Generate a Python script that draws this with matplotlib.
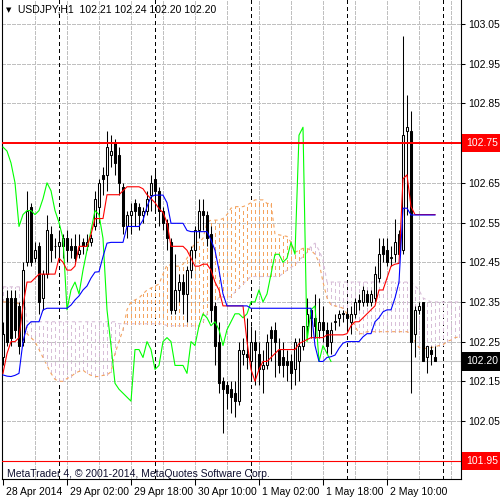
import numpy as np
import pandas as pd
import matplotlib
matplotlib.use("Agg")
import matplotlib.pyplot as plt
from matplotlib.transforms import blended_transform_factory, ScaledTranslation

plt.rcParams['font.family'] = ['Liberation Sans', 'DejaVu Sans']

# USDJPY H1, first bar 28 Apr 2014 10:00
symbol = "USDJPY,H1"
start_time = "2014-04-28 10:00"

opens = [102.21, 102.36, 102.36, 102.36, 102.34, 102.25, 102.45, 102.59, 102.46, 102.49,
         102.36, 102.42, 102.52, 102.49, 102.49, 102.49, 102.51, 102.49, 102.49, 102.47,
         102.50, 102.49, 102.50, 102.54, 102.59, 102.67, 102.67, 102.72, 102.75, 102.72,
         102.64, 102.54, 102.57, 102.60, 102.59, 102.57, 102.58, 102.62, 102.66, 102.63,
         102.58, 102.55, 102.50, 102.33, 102.38, 102.40, 102.37, 102.43, 102.48, 102.53,
         102.58, 102.57, 102.52, 102.34, 102.25, 102.15, 102.14, 102.13, 102.12, 102.10,
         102.22, 102.22, 102.20, 102.25, 102.22, 102.18, 102.19, 102.28, 102.28, 102.23,
         102.21, 102.20, 102.20, 102.18, 102.20, 102.24, 102.29, 102.33, 102.31, 102.28,
         102.30, 102.28, 102.25, 102.30, 102.31, 102.32, 102.32, 102.30, 102.32, 102.355,
         102.35, 102.37, 102.35, 102.36, 102.41, 102.49, 102.48, 102.46, 102.47, 102.52,
         102.48, 102.78, 102.78, 102.27, 102.33, 102.35, 102.21, 102.23, 102.21]
highs = [102.30, 102.38, 102.38, 102.38, 102.35, 102.45, 102.63, 102.60, 102.50, 102.50,
         102.43, 102.57, 102.54, 102.51, 102.53, 102.52, 102.53, 102.51, 102.52, 102.52,
         102.51, 102.52, 102.52, 102.63, 102.66, 102.69, 102.78, 102.77, 102.76, 102.74,
         102.65, 102.58, 102.60, 102.61, 102.60, 102.59, 102.63, 102.67, 102.68, 102.64,
         102.59, 102.56, 102.51, 102.47, 102.42, 102.42, 102.44, 102.49, 102.54, 102.61,
         102.61, 102.58, 102.54, 102.35, 102.30, 102.16, 102.15, 102.15, 102.15, 102.25,
         102.26, 102.31, 102.29, 102.28, 102.25, 102.23, 102.27, 102.29, 102.30, 102.26,
         102.25, 102.23, 102.22, 102.26, 102.26, 102.29, 102.36, 102.33, 102.37, 102.36,
         102.34, 102.30, 102.30, 102.32, 102.33, 102.33, 102.33, 102.34, 102.36, 102.37,
         102.39, 102.38, 102.38, 102.44, 102.51, 102.51, 102.51, 102.49, 102.56, 102.53,
         103.02, 102.87, 102.83, 102.34, 102.35, 102.35, 102.24, 102.24, 102.24]
lows = [102.19, 102.24, 102.24, 102.26, 102.22, 102.24, 102.44, 102.44, 102.45, 102.32,
        102.33, 102.41, 102.45, 102.46, 102.45, 102.46, 102.45, 102.46, 102.45, 102.46,
        102.47, 102.48, 102.49, 102.53, 102.55, 102.62, 102.63, 102.69, 102.67, 102.62,
        102.52, 102.51, 102.52, 102.54, 102.53, 102.55, 102.57, 102.58, 102.58, 102.54,
        102.53, 102.48, 102.32, 102.32, 102.35, 102.32, 102.30, 102.41, 102.46, 102.51,
        102.53, 102.49, 102.30, 102.19, 102.12, 102.02, 102.08, 102.07, 102.06, 102.09,
        102.19, 102.18, 102.15, 102.14, 102.14, 102.12, 102.18, 102.20, 102.16, 102.17,
        102.16, 102.15, 102.13, 102.14, 102.15, 102.23, 102.27, 102.26, 102.26, 102.26,
        102.25, 102.22, 102.22, 102.28, 102.29, 102.30, 102.28, 102.27, 102.31, 102.33,
        102.34, 102.34, 102.34, 102.35, 102.40, 102.45, 102.44, 102.44, 102.45, 102.47,
        102.47, 102.57, 102.12, 102.21, 102.32, 102.20, 102.17, 102.19, 102.20]
closes = [102.27, 102.25, 102.26, 102.28, 102.24, 102.43, 102.58, 102.45, 102.48, 102.35,
          102.42, 102.53, 102.48, 102.49, 102.50, 102.51, 102.48, 102.48, 102.46, 102.48,
          102.49, 102.50, 102.51, 102.61, 102.65, 102.66, 102.74, 102.73, 102.70, 102.65,
          102.54, 102.57, 102.58, 102.58, 102.57, 102.58, 102.61, 102.65, 102.63, 102.58,
          102.55, 102.51, 102.33, 102.38, 102.40, 102.37, 102.43, 102.48, 102.53, 102.58,
          102.57, 102.51, 102.33, 102.24, 102.145, 102.13, 102.12, 102.11, 102.10, 102.23,
          102.23, 102.21, 102.25, 102.23, 102.18, 102.19, 102.25, 102.26, 102.25, 102.19,
          102.19, 102.19, 102.17, 102.25, 102.24, 102.29, 102.32, 102.31, 102.29, 102.30,
          102.28, 102.24, 102.28, 102.30, 102.32, 102.32, 102.31, 102.32, 102.35, 102.35,
          102.38, 102.35, 102.37, 102.42, 102.47, 102.47, 102.45, 102.46, 102.50, 102.47,
          102.77, 102.79, 102.25, 102.33, 102.34, 102.20, 102.24, 102.22, 102.20]

# Ichimoku Kinko Hyo (9, 26, 52)
tenkan = [102.17, 102.22, 102.25, 102.25, 102.26, 102.34, 102.40, 102.40, 102.41, 102.42,
          102.42, 102.42, 102.42, 102.42, 102.46, 102.45, 102.43, 102.43, 102.44, 102.49,
          102.49, 102.49, 102.52, 102.56, 102.56, 102.56, 102.62, 102.62, 102.62, 102.62,
          102.63, 102.64, 102.64, 102.64, 102.64, 102.635, 102.62, 102.61, 102.60, 102.585,
          102.575, 102.55, 102.49, 102.49, 102.49, 102.49, 102.48, 102.46, 102.44, 102.44,
          102.445, 102.445, 102.43, 102.40, 102.38, 102.34, 102.34, 102.34, 102.34, 102.34,
          102.34, 102.25, 102.18, 102.15, 102.18, 102.20, 102.20, 102.21, 102.22, 102.23,
          102.23, 102.23, 102.23, 102.23, 102.245, 102.25, 102.255, 102.26, 102.26, 102.26,
          102.26, 102.267, 102.267, 102.267, 102.267, 102.267, 102.27, 102.29, 102.30, 102.30,
          102.31, 102.32, 102.33, 102.34, 102.38, 102.38, 102.41, 102.44, 102.445, 102.447,
          102.66, 102.67, 102.59, 102.57, 102.57, 102.57, 102.57, 102.57, 102.57]
kijun = [102.166, 102.163, 102.162, 102.165, 102.17, 102.25, 102.29, 102.30, 102.30, 102.30,
         102.33, 102.334, 102.334, 102.334, 102.334, 102.334, 102.334, 102.342, 102.355, 102.365,
         102.38, 102.39, 102.41, 102.425, 102.426, 102.464, 102.498, 102.50, 102.50, 102.50,
         102.50, 102.54, 102.54, 102.54, 102.54, 102.556, 102.59, 102.615, 102.619, 102.619,
         102.619, 102.60, 102.548, 102.548, 102.548, 102.548, 102.53, 102.527, 102.527, 102.527,
         102.527, 102.527, 102.506, 102.48, 102.43, 102.37, 102.34, 102.34, 102.34, 102.34,
         102.34, 102.34, 102.334, 102.334, 102.334, 102.334, 102.334, 102.334, 102.334, 102.334,
         102.334, 102.334, 102.334, 102.334, 102.334, 102.334, 102.334, 102.334, 102.24, 102.20,
         102.20, 102.21, 102.212, 102.216, 102.233, 102.246, 102.25, 102.25, 102.25, 102.25,
         102.262, 102.27, 102.27, 102.30, 102.31, 102.325, 102.33, 102.33, 102.36, 102.40,
         102.586, 102.586, 102.569, 102.569, 102.569, 102.569, 102.569, 102.569, 102.569]
span_a = [102.35, 102.35, 102.35, 102.35, 102.345, 102.30, 102.27, 102.26, 102.25, 102.23,
          102.21, 102.19, 102.17, 102.155, 102.15, 102.15, 102.157, 102.162, 102.17, 102.175,
          102.178, 102.17, 102.165, 102.162, 102.162, 102.165, 102.166, 102.174, 102.22, 102.25,
          102.28, 102.33, 102.35, 102.355, 102.36, 102.37, 102.38, 102.385, 102.39, 102.395,
          102.42, 102.443, 102.443, 102.44, 102.44, 102.445, 102.46, 102.48, 102.50, 102.50,
          102.51, 102.55, 102.556, 102.556, 102.556, 102.56, 102.57, 102.586, 102.59, 102.59,
          102.59, 102.594, 102.60, 102.607, 102.607, 102.607, 102.598, 102.598, 102.52, 102.519,
          102.517, 102.515, 102.50, 102.475, 102.48, 102.485, 102.485, 102.48, 102.47, 102.45,
          102.40, 102.36, 102.342, 102.34, 102.338, 102.334, 102.32, 102.31, 102.29, 102.27,
          102.27, 102.275, 102.275, 102.275, 102.275, 102.275, 102.275, 102.275, 102.275, 102.275,
          102.275, 102.275, 102.27, 102.25, 102.235, 102.233, 102.233, 102.235, 102.237, 102.24,
          102.242, 102.25, 102.254, 102.26, 102.262]
span_b = [102.388, 102.388, 102.388, 102.388, 102.388, 102.388, 102.30, 102.30, 102.30, 102.30,
          102.30, 102.30, 102.30, 102.30, 102.30, 102.30, 102.30, 102.30, 102.30, 102.30,
          102.30, 102.30, 102.30, 102.30, 102.30, 102.30, 102.30, 102.30, 102.30, 102.295,
          102.295, 102.295, 102.295, 102.295, 102.295, 102.295, 102.295, 102.295, 102.295, 102.295,
          102.295, 102.29, 102.29, 102.29, 102.29, 102.29, 102.29, 102.29, 102.29, 102.29,
          102.30, 102.32, 102.33, 102.34, 102.363, 102.363, 102.363, 102.363, 102.375, 102.385,
          102.395, 102.405, 102.414, 102.414, 102.414, 102.414, 102.414, 102.414, 102.414, 102.414,
          102.422, 102.43, 102.437, 102.443, 102.455, 102.464, 102.475, 102.49, 102.498, 102.48,
          102.456, 102.40, 102.40, 102.40, 102.40, 102.40, 102.40, 102.40, 102.40, 102.40,
          102.40, 102.40, 102.40, 102.40, 102.40, 102.40, 102.40, 102.40, 102.40, 102.40,
          102.40, 102.40, 102.40, 102.39, 102.38, 102.36, 102.355, 102.35, 102.35, 102.35,
          102.35, 102.35, 102.35, 102.35, 102.35]

price_ticks = [103.05, 102.95, 102.85, 102.75, 102.65, 102.55, 102.45, 102.35, 102.25, 102.15, 102.05]
level_lines = [102.75, 101.95]
chikou_shift = 26

o = np.array(opens)
h = np.array(highs)
l = np.array(lows)
c = np.array(closes)
a = np.array(span_a)
b = np.array(span_b)
n = len(c)
bars = np.arange(n)
ahead = np.arange(len(a))
times = pd.date_range(start_time, periods=len(a), freq="h")

px = 0.72  # 1 піксель при dpi=100

fig = plt.figure(figsize=(5, 5), dpi=100)
ax = fig.add_axes([2 / 500, 21 / 500, 459 / 500, 479 / 500])
ax.set_xlim(-0.25, 114.5)
ax.set_ylim(101.9039, 103.1105)

# сітка
for p in price_ticks:
    ax.axhline(p, color="#c0c0c0", lw=px, ls=(0, (3, 2)), zorder=0, antialiased=False)
for i in range(8, len(a), 8):
    ax.axvline(i, color="#c0c0c0", lw=px, ls=(0, (3, 2)), zorder=0, antialiased=False)
for i in np.where(times.hour == 0)[0]:
    ax.axvline(i, color="black", lw=px, ls=(0, (3, 3)), zorder=0.5, antialiased=False)

# хмара
up_cloud = a >= b
ax.vlines(ahead[up_cloud], b[up_cloud], a[up_cloud], color="#f4a460", lw=px,
          linestyles=(0, (3, 3)), zorder=1, antialiased=False)
ax.vlines(ahead[~up_cloud], a[~up_cloud], b[~up_cloud], color="#d8bfd8", lw=px,
          linestyles=(0, (3, 3)), zorder=1, antialiased=False)
ax.plot(ahead, a, color="#f4a460", lw=0.8, ls=(0, (3, 3)), zorder=1.2)
ax.plot(ahead, b, color="#d8bfd8", lw=0.8, ls=(0, (3, 3)), zorder=1.2)

# свічки
bull = c >= o
body_lo = np.minimum(o, c)
body_h = np.maximum(np.abs(c - o), 0.002)
ax.vlines(bars, l, h, color="black", lw=0.75, zorder=3)
ax.bar(bars[bull], body_h[bull], bottom=body_lo[bull], width=0.6, color="white",
       edgecolor="black", lw=0.75, zorder=4)
ax.bar(bars[~bull], body_h[~bull], bottom=body_lo[~bull], width=0.6, color="black",
       edgecolor="black", lw=0.75, zorder=4)

# лінії індикатора
ax.plot(bars[:n - chikou_shift], c[chikou_shift:], color="#00ff00", lw=0.8, zorder=5)
ax.plot(bars, tenkan, color="#ff0000", lw=0.8, zorder=5)
ax.plot(bars, kijun, color="#0000ff", lw=0.8, zorder=5)

# рівні
ax.axhline(level_lines[0], color="#ff0000", lw=1.4, zorder=6)
ax.axhline(level_lines[1], color="#ff0000", lw=0.8, zorder=6)
ax.axhline(c[-1], color="#c0c0c0", lw=0.8, zorder=2)

# осі
ax.yaxis.tick_right()
ax.set_yticks(price_ticks)
ax.set_yticklabels(["" if p in level_lines else f"{p:.2f}" for p in price_ticks])
ax.tick_params(axis="y", length=3, width=0.75, pad=2, labelsize=7.5, colors="black")
xt = list(range(0, n, 16))
xl = [f"{times[0].day} {times[0]:%b %Y}"] + [f"{times[i].day} {times[i]:%b %H:%M}" for i in xt[1:]]
ax.set_xticks(xt)
ax.set_xticklabels(xl, ha="left")
ax.tick_params(axis="x", length=4, width=0.75, pad=2, labelsize=7.5)
shift = ScaledTranslation(3 / 100, 0, fig.dpi_scale_trans)
for lab in ax.get_xticklabels():
    lab.set_transform(lab.get_transform() + shift)
ax.spines["top"].set_visible(False)
for s in ["left", "right", "bottom"]:
    ax.spines[s].set_linewidth(0.8)

trans = blended_transform_factory(ax.transAxes, ax.transData)
box = dict(boxstyle="square,pad=0.4", ec="none")
for p in level_lines:
    ax.text(1.0109, p, f"{p:.2f}", transform=trans, ha="left", va="center", fontsize=7.5,
            color="white", bbox=dict(box, fc="#ff0000"), zorder=10, clip_on=False)
ax.text(1.0109, c[-1], f"{c[-1]:.2f}", transform=trans, ha="left", va="center", fontsize=7.5,
        color="white", bbox=dict(box, fc="black"), zorder=10, clip_on=False)

fig.text(6 / 500, 1 - 10 / 500, "\u25bc", fontsize=5, va="center", ha="left",
         family=["DejaVu Sans"])
fig.text(18 / 500, 1 - 10 / 500,
         f"{symbol}  {o[-1]:.2f} {h[-1]:.2f} {l[-1]:.2f} {c[-1]:.2f}",
         fontsize=7.5, va="center", ha="left", color="black")
fig.text(7 / 500, 1 - 474 / 500, "MetaTrader 4, \u00a9 2001-2014, MetaQuotes Software Corp.",
         fontsize=7.5, va="center", ha="left", color="#101030")

fig.savefig("out.png", dpi=100)
